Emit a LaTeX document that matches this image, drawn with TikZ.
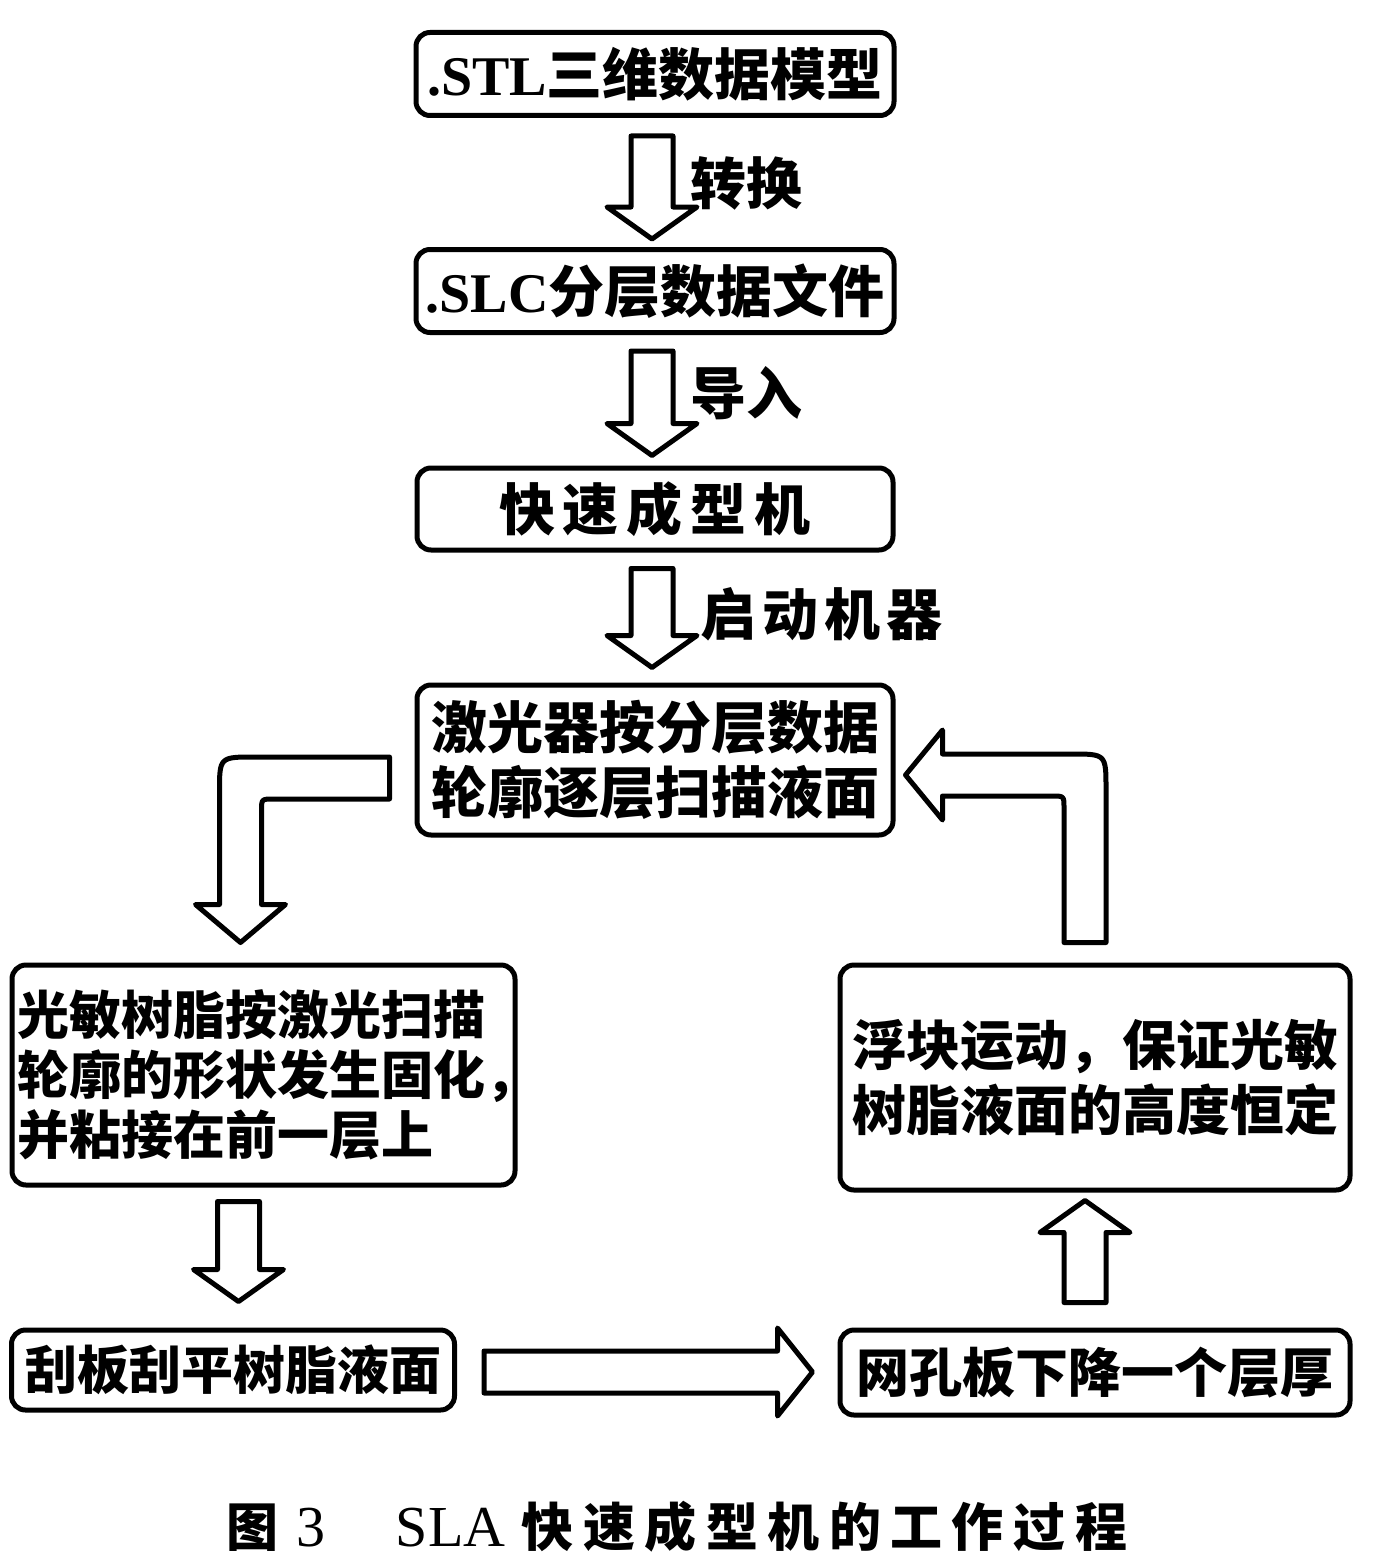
\documentclass[tikz,border=0pt]{standalone}
\usepackage{fontspec}
\setmainfont{Liberation Serif}
\newfontfamily\cjk{Noto Sans CJK SC}
\usetikzlibrary{calc}
\newcommand\downblk[2]{\draw[blk] ($(#1)+(-21,0)$) -- ($(#2)+(-21,-32)$) -- ($(#2)+(-45,-32)$) -- (#2) -- ($(#2)+(45,-32)$) -- ($(#2)+(21,-32)$) -- ($(#1)+(21,0)$) -- cycle;}
\newcommand\upblk[2]{\draw[blk] ($(#1)+(-21,0)$) -- ($(#2)+(-21,32)$) -- ($(#2)+(-45,32)$) -- (#2) -- ($(#2)+(45,32)$) -- ($(#2)+(21,32)$) -- ($(#1)+(21,0)$) -- cycle;}
\newcommand\rightblk[2]{\draw[blk] ($(#1)+(0,-21)$) -- ($(#2)+(-35,-21)$) -- ($(#2)+(-35,-44)$) -- (#2) -- ($(#2)+(-35,44)$) -- ($(#2)+(-35,21)$) -- ($(#1)+(0,21)$) -- cycle;}
\tikzset{
  box/.style={draw, line width=5pt, rounded corners=14pt, fill=white, inner sep=4pt,
    font=\cjk\bfseries\fontsize{54}{65}\selectfont},
  bigtext/.style={font=\cjk\bfseries\fontsize{56}{65}\selectfont},
  blk/.style={draw, line width=5pt, fill=white, line join=round},
  lbl/.style={font=\cjk\bfseries\fontsize{56}{60}\selectfont, anchor=west, inner sep=0pt},
  captext/.style={inner sep=0pt},
}
\begin{document}
\begin{tikzpicture}[x=1pt,y=-1pt]
\useasboundingbox (0,0) rectangle (1386,1560);
% boxes
\node[box, bigtext, minimum width=478pt, minimum height=83pt] (b1) at (655,74) {{\rmfamily .STL}三维数据模型};
\node[box, bigtext, minimum width=478pt, minimum height=83pt] (b2) at (655,291) {{\rmfamily .SLC}分层数据文件};
\node[box, bigtext, minimum width=476pt, minimum height=82pt] (b3) at (655,509) {快\hspace{8pt}速\hspace{8pt}成\hspace{8pt}型\hspace{8pt}机};
\node[box, bigtext, minimum width=476pt, minimum height=150pt, align=center] (b4) at (655,760) {激光器按分层数据\\轮廓逐层扫描液面};
\node[box, minimum width=503pt, minimum height=220pt, align=left, text width=492pt, inner sep=5pt,
  font=\cjk\bfseries\fontsize{52}{60}\selectfont] (b5) at (263.5,1075)
  {光敏树脂按激光扫描\\轮廓的形状发生固化\makebox[26pt][l]{，}\\并粘接在前一层上};
\node[box, minimum width=510pt, minimum height=225pt, align=center] (b6) at (1095,1077.5)
  {浮块运动，保证光敏\\树脂液面的高度恒定};
\node[box, minimum width=443pt, minimum height=80pt, font=\cjk\bfseries\fontsize{52}{60}\selectfont] (b7) at (233,1370) {刮板刮平树脂液面};
\node[box, minimum width=510pt, minimum height=85pt, font=\cjk\bfseries\fontsize{53}{60}\selectfont] (b8) at (1095,1372.5) {网孔板下降一个层厚};
% straight arrows in the top column
\coordinate (a1s) at ($(b1.south)+(-3,18)$);
\coordinate (a1e) at ($(a1s |- b2.north)+(0,-8)$);
\downblk{a1s}{a1e}
\node[lbl] (l1) at ($(a1s)+(38,47)$) {转换};
\coordinate (a2s) at ($(b2.south)+(-3,16)$);
\coordinate (a2e) at ($(a2s |- b3.north)+(0,-10)$);
\downblk{a2s}{a2e}
\node[lbl] (l2) at ($(a2s)+(38,42)$) {导入};
\coordinate (a3s) at ($(b3.south)+(-3,16)$);
\coordinate (a3e) at ($(a3s |- b4.north)+(0,-15)$);
\downblk{a3s}{a3e}
\node[lbl] (l3) at ($(a3s)+(48,46)$) {启\hspace{6pt}动\hspace{6pt}机\hspace{6pt}器};
% left bent arrow
\coordinate (lb) at ($(b4.west)+(-25,18)$);
\coordinate (lt) at ($(b5.north)+(-23,-20)$);
\coordinate (lc) at (lt |- lb);
\draw[blk] ($(lb)+(0,-21)$) -- ($(lc)+(14,-21)$) .. controls ($(lc)+(-21,-21)$) .. ($(lc)+(-21,14)$)
  -- ($(lt)+(-21,-38)$) -- ($(lt)+(-45,-38)$) -- (lt) -- ($(lt)+(45,-38)$) -- ($(lt)+(21,-38)$)
  -- ($(lc)+(21,33)$) .. controls ($(lc)+(21,21)$) .. ($(lc)+(33,21)$) -- ($(lb)+(0,21)$) -- cycle;
% right bent arrow
\coordinate (rs) at ($(b6.north)+(-10,-20)$);
\coordinate (rt) at ($(b4.east)+(10,15)$);
\coordinate (rc) at (rs |- rt);
\draw[blk] ($(rs)+(-21,0)$) -- ($(rc)+(-21,33)$) .. controls ($(rc)+(-21,21)$) .. ($(rc)+(-33,21)$)
  -- ($(rt)+(37,21)$) -- ($(rt)+(37,45)$) -- (rt) -- ($(rt)+(37,-45)$) -- ($(rt)+(37,-21)$)
  -- ($(rc)+(-14,-21)$) .. controls ($(rc)+(21,-21)$) .. ($(rc)+(21,14)$) -- ($(rs)+(21,0)$) -- cycle;
% bottom arrows
\coordinate (d1s) at ($(b5.south)+(-25,14)$);
\coordinate (d1e) at ($(d1s |- b7.north)+(0,-26)$);
\downblk{d1s}{d1e}
\coordinate (h1s) at ($(b7.east)+(27,2)$);
\coordinate (h1e) at ($(h1s -| b8.west)+(-25,0)$);
\rightblk{h1s}{h1e}
\coordinate (u1s) at ($(b8.north)+(-10,-25)$);
\coordinate (u1e) at ($(u1s |- b6.south)+(0,8)$);
\upblk{u1s}{u1e}
% caption
\node[captext] (caption) at (677,1527) {{\cjk\bfseries\fontsize{52}{56}\selectfont 图}\hspace{18pt}{\fontsize{58}{60}\selectfont 3}\hspace{70pt}{\fontsize{58}{60}\selectfont SLA}\hspace{16pt}{\cjk\bfseries\fontsize{52}{56}\selectfont 快\hspace{9.5pt}速\hspace{9.5pt}成\hspace{9.5pt}型\hspace{9.5pt}机\hspace{9.5pt}的\hspace{9.5pt}工\hspace{9.5pt}作\hspace{9.5pt}过\hspace{9.5pt}程}};
\end{tikzpicture}
\end{document}
